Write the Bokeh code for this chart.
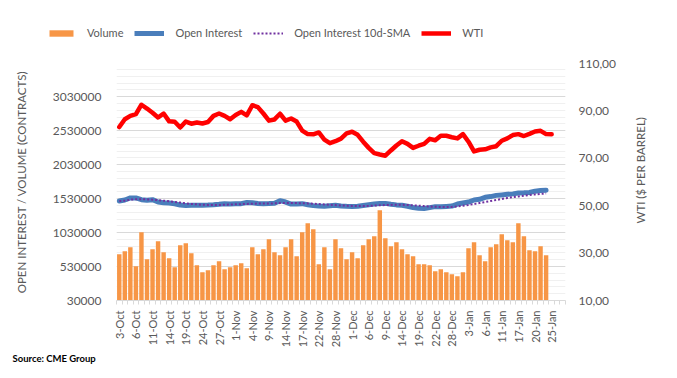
import math
from bokeh.plotting import figure
from bokeh.layouts import row, column
from bokeh.models import (Range1d, LinearAxis, FixedTicker, Legend, LegendItem, Title)
from bokeh.embed import file_html
from bokeh.resources import INLINE

# ---------------- data ----------------
x_tick_labels = ["3-Oct", "6-Oct", "11-Oct", "14-Oct", "19-Oct", "24-Oct", "27-Oct",
                 "1-Nov", "4-Nov", "9-Nov", "14-Nov", "17-Nov", "22-Nov", "28-Nov",
                 "1-Dec", "6-Dec", "9-Dec", "14-Dec", "19-Dec", "22-Dec", "28-Dec",
                 "3-Jan", "6-Jan", "11-Jan", "17-Jan", "20-Jan", "25-Jan"]

volume = [711000, 755000, 814000, 534000, 1034000, 637000, 784000, 902000, 740000, 652000,
          520000, 843000, 873000, 725000, 549000, 446000, 475000, 549000, 608000, 490000,
          520000, 549000, 578000, 505000, 814000, 711000, 784000, 931000, 740000, 696000,
          814000, 931000, 681000, 1034000, 1166000, 1078000, 563000, 814000, 490000, 931000,
          799000, 637000, 740000, 652000, 843000, 931000, 975000, 1358000, 946000, 828000,
          887000, 784000, 711000, 681000, 563000, 563000, 549000, 461000, 490000, 446000,
          417000, 387000, 446000, 799000, 887000, 696000, 608000, 814000, 858000, 1005000,
          916000, 887000, 1166000, 975000, 770000, 755000, 828000, 696000]

open_interest = [1495000, 1510000, 1540000, 1540000, 1515000, 1505000, 1515000, 1480000,
                 1470000, 1465000, 1455000, 1435000, 1430000, 1432000, 1432000, 1434000,
                 1436000, 1440000, 1446000, 1456000, 1452000, 1455000, 1456000, 1472000,
                 1470000, 1458000, 1456000, 1458000, 1462000, 1500000, 1480000, 1450000,
                 1452000, 1456000, 1440000, 1427000, 1420000, 1417000, 1425000, 1432000,
                 1422000, 1418000, 1416000, 1418000, 1430000, 1441000, 1450000, 1458000,
                 1460000, 1448000, 1438000, 1432000, 1418000, 1400000, 1388000, 1385000,
                 1398000, 1412000, 1410000, 1415000, 1421000, 1450000, 1465000, 1480000,
                 1510000, 1520000, 1550000, 1560000, 1578000, 1585000, 1593000, 1600000,
                 1612000, 1615000, 1620000, 1640000, 1650000, 1655000]

open_interest_sma = [1495000, 1500000, 1515000, 1522000, 1522000, 1518000, 1515000, 1508000,
                     1500000, 1492000, 1482000, 1472000, 1462000, 1452000, 1446000, 1440000,
                     1438000, 1437000, 1437000, 1440000, 1443000, 1446000, 1449000, 1452000,
                     1455000, 1457000, 1458000, 1459000, 1460000, 1464000, 1466000, 1465000,
                     1464000, 1462000, 1460000, 1456000, 1450000, 1444000, 1440000, 1435000,
                     1430000, 1426000, 1423000, 1421000, 1421000, 1424000, 1428000, 1432000,
                     1436000, 1438000, 1439000, 1439000, 1437000, 1432000, 1427000, 1420000,
                     1415000, 1410000, 1407000, 1405000, 1408000, 1415000, 1425000, 1437000,
                     1450000, 1465000, 1480000, 1495000, 1510000, 1525000, 1540000, 1552000,
                     1563000, 1573000, 1583000, 1592000, 1600000, 1606000]

wti = [83.2, 86.5, 87.9, 88.6, 92.6, 91.0, 89.2, 87.2, 88.9, 85.6,
       85.4, 83.0, 85.5, 84.6, 85.1, 84.7, 85.3, 87.9, 88.9, 87.9,
       86.5, 88.3, 89.6, 88.1, 92.4, 91.6, 88.9, 85.9, 86.4, 88.8,
       85.9, 86.8, 85.5, 81.7, 80.2, 80.1, 80.9, 77.9, 76.4, 77.2,
       78.3, 80.5, 81.2, 79.9, 77.0, 74.4, 72.2, 71.6, 71.1, 73.3,
       75.4, 77.2, 76.1, 74.4, 75.3, 76.1, 78.2, 77.6, 79.5, 79.5,
       78.9, 78.4, 80.2, 77.0, 72.9, 73.6, 73.8, 74.6, 75.1, 77.4,
       78.4, 79.8, 80.2, 79.4, 80.3, 81.3, 81.6, 80.2, 80.1]

y_ticks = [30000, 530000, 1030000, 1530000, 2030000, 2530000, 3030000]
wti_ticks = [10, 30, 50, 70, 90, 110]
wti_tick_labels = ["10,00", "30,00", "50,00", "70,00", "90,00", "110,00"]
series_names = ["Volume", "Open Interest", "Open Interest 10d-SMA", "WTI"]

# ---------------- styling ----------------
FONT = "Lato"
GRAY = "#595959"
ORANGE = "#F79646"
BLUE = "#4A7EBB"
PURPLE = "#7030A0"
RED = "#FF0000"
TOP_H = 45
BORDER_TOP = 63 - TOP_H
BORDER_BOTTOM = 70
MAIN_W = 622

# ---------------- legend strip ----------------
pl = figure(width=669, height=TOP_H, output_backend="svg", toolbar_location=None,
            min_border_left=0, min_border_right=0, min_border_top=0, min_border_bottom=0,
            x_range=Range1d(0, 1), y_range=Range1d(0, 1),
            background_fill_color="white", border_fill_color="white")
pl.title.visible = False
pl.outline_line_color = None
pl.axis.visible = False
pl.grid.visible = False
# legend-key renderers: their data lie outside the strip's ranges, so only keys show
off = [-5, -4]
lr1 = pl.vbar(x=off[:1], top=off[:1], width=0.5, fill_color=ORANGE, line_color=None)
lr2 = pl.line(off, off, line_color=BLUE, line_width=5)
lr3 = pl.line(off, off, line_color=PURPLE, line_width=2, line_dash="2 2")
lr4 = pl.line(off, off, line_color=RED, line_width=4.5)
legend = Legend(items=[LegendItem(label=n, renderers=[r])
                       for n, r in zip(series_names, [lr1, lr2, lr3, lr4])],
                orientation="horizontal", location=(46, 6),
                glyph_width=30, glyph_height=8, label_height=8, label_standoff=11,
                spacing=11, padding=0, margin=0, border_line_color=None,
                background_fill_alpha=0, label_text_font=FONT,
                label_text_font_size="11px", label_text_color=GRAY)
pl.add_layout(legend)

# ---------------- main chart ----------------
n_cat = len(wti) + 2
p = figure(width=MAIN_W, height=370 - TOP_H, output_backend="svg", toolbar_location=None,
           x_range=Range1d(-0.5, n_cat - 0.5), y_range=Range1d(30000, 3520000),
           min_border_left=116, min_border_right=MAIN_W - 565, min_border_top=BORDER_TOP,
           min_border_bottom=BORDER_BOTTOM, background_fill_color="white",
           border_fill_color="white")
p.outline_line_color = None
p.extra_y_ranges = {"wti": Range1d(10, 110)}

left_ticker = FixedTicker(ticks=y_ticks,
                          minor_ticks=[y_ticks[0] + 100000 * k for k in range(35)])
p.xgrid.visible = False
p.ygrid.ticker = left_ticker
p.ygrid.grid_line_color = "#D9D9D9"
p.ygrid.grid_line_width = 1
p.ygrid.minor_grid_line_color = "#F0F0F0"
p.ygrid.minor_grid_line_width = 1

xv = list(range(len(volume)))
xo = list(range(len(open_interest)))
xw = list(range(len(wti)))
p.vbar(x=xv, top=volume, bottom=y_ticks[0], width=0.8,
       fill_color=ORANGE, line_color=None)
p.line(xo, open_interest, line_color=BLUE, line_width=5,
       line_join="round", line_cap="round")
p.line(xo, open_interest_sma, line_color=PURPLE, line_width=2, line_dash="2 2")
p.line(xw, wti, line_color=RED, line_width=4.5, y_range_name="wti",
       line_join="round", line_cap="round")

ax = p.yaxis[0]
ax.ticker = left_ticker
ax.major_label_overrides = {t: str(t) for t in y_ticks}
ax.axis_line_color = None
ax.major_tick_line_color = None
ax.minor_tick_line_color = None
ax.major_tick_out = 0
ax.major_label_standoff = 11
ax.major_label_text_font = FONT
ax.major_label_text_font_size = "12px"
ax.major_label_text_color = GRAY
ax.axis_label = "OPEN INTEREST / VOLUME (CONTRACTS)"
ax.axis_label_text_font = FONT
ax.axis_label_text_font_size = "11.5px"
ax.axis_label_text_font_style = "normal"
ax.axis_label_text_color = GRAY
ax.axis_label_standoff = 22

rax = LinearAxis(y_range_name="wti", ticker=FixedTicker(ticks=wti_ticks),
                 major_label_overrides={t: l for t, l in zip(wti_ticks, wti_tick_labels)})
rax.axis_line_color = None
rax.major_tick_line_color = None
rax.minor_tick_line_color = None
rax.major_tick_out = 0
rax.major_label_standoff = 13
rax.major_label_text_font = FONT
rax.major_label_text_font_size = "12px"
rax.major_label_text_color = GRAY
p.add_layout(rax, "right")

bx = p.xaxis[0]
tick_pos = list(range(0, 3 * len(x_tick_labels), 3))
bx.ticker = FixedTicker(ticks=tick_pos, minor_ticks=[k - 0.5 for k in range(n_cat + 1)])
bx.major_label_overrides = {t: l for t, l in zip(tick_pos, x_tick_labels)}
bx.major_label_orientation = math.pi / 2
bx.axis_line_color = "#D9D9D9"
bx.major_tick_line_color = None
bx.major_tick_out = 0
bx.major_tick_in = 0
bx.minor_tick_line_color = "#D9D9D9"
bx.minor_tick_out = 4
bx.minor_tick_in = 0
bx.major_label_standoff = 6
bx.major_label_text_font = FONT
bx.major_label_text_font_size = "11px"
bx.major_label_text_color = GRAY

p.add_layout(Title(text="Source: CME Group", align="left", offset=-104,
                   text_font=FONT, text_font_size="9.5px", text_font_style="bold",
                   text_color="#000000", standoff=1), "below")

# ---------------- slim panel with the right-hand axis title ----------------
p2 = figure(width=669 - MAIN_W, height=370 - TOP_H, output_backend="svg",
            toolbar_location=None, min_border_left=27, min_border_right=0,
            min_border_top=BORDER_TOP, min_border_bottom=BORDER_BOTTOM,
            x_range=Range1d(0, 1), y_range=Range1d(0, 1),
            background_fill_color="white", border_fill_color="white")
p2.title.visible = False
p2.outline_line_color = None
p2.grid.visible = False
p2.axis.visible = False
p2.add_layout(Title(text="WTI ($ PER BARREL)", align="left", offset=77,
                    text_font=FONT, text_font_size="11.5px", text_font_style="normal",
                    text_color=GRAY, standoff=6), "left")

layout = column(pl, row(p, p2, spacing=0), spacing=0)
open("out.html", "w").write(file_html(layout, INLINE))
